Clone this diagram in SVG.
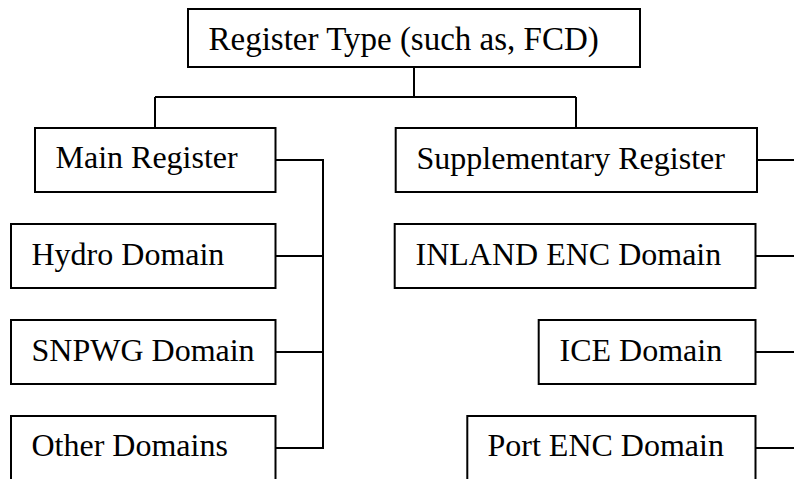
<svg xmlns="http://www.w3.org/2000/svg" width="794" height="479" viewBox="0 0 794 479">
<style>
.box{fill:#fff;stroke:#000;stroke-width:2}
.lbl{font-family:"Liberation Serif","Times New Roman",serif;font-size:32px;fill:#000}
.conn{fill:none;stroke:#000;stroke-width:2}
</style>
<rect width="794" height="479" fill="#fff"/>
<g id="connectors" class="conn">
<path d="M414,67 V97 M155,97 H576 M155,97 V128 M576,97 V128"/>
<path d="M275.5,160 H323 V448 H275.5 M275.5,256 H323 M275.5,352 H323"/>
<path d="M757,160 H794 M755.5,256 H794 M755.5,352 H794 M755.5,448 H794"/>
</g>
<g id="register-type"><rect class="box" x="188" y="9" width="452" height="58"/><text class="lbl" x="208.5" y="50" style="font-size:33px">Register Type (such as, FCD)</text></g>
<g id="main-register"><rect class="box" x="35" y="128" width="240.5" height="64"/><text class="lbl" x="55.5" y="168">Main Register</text></g>
<g id="hydro-domain"><rect class="box" x="11" y="224" width="264.5" height="64"/><text class="lbl" x="31.5" y="265">Hydro Domain</text></g>
<g id="snpwg-domain"><rect class="box" x="11" y="320" width="264.5" height="64"/><text class="lbl" x="31.5" y="361">SNPWG Domain</text></g>
<g id="other-domains"><rect class="box" x="11" y="416" width="264.5" height="90"/><text class="lbl" x="31.5" y="456">Other Domains</text></g>
<g id="supplementary-register"><rect class="box" x="395.7" y="128" width="361.3" height="64"/><text class="lbl" x="416.5" y="168.5">Supplementary Register</text></g>
<g id="inland-enc-domain"><rect class="box" x="394.7" y="224" width="360.8" height="64"/><text class="lbl" x="415.5" y="265">INLAND ENC Domain</text></g>
<g id="ice-domain"><rect class="box" x="538.7" y="320" width="216.8" height="64"/><text class="lbl" x="559.5" y="361">ICE Domain</text></g>
<g id="port-enc-domain"><rect class="box" x="467.3" y="416" width="288.2" height="90"/><text class="lbl" x="487.5" y="456">Port ENC Domain</text></g>
</svg>
